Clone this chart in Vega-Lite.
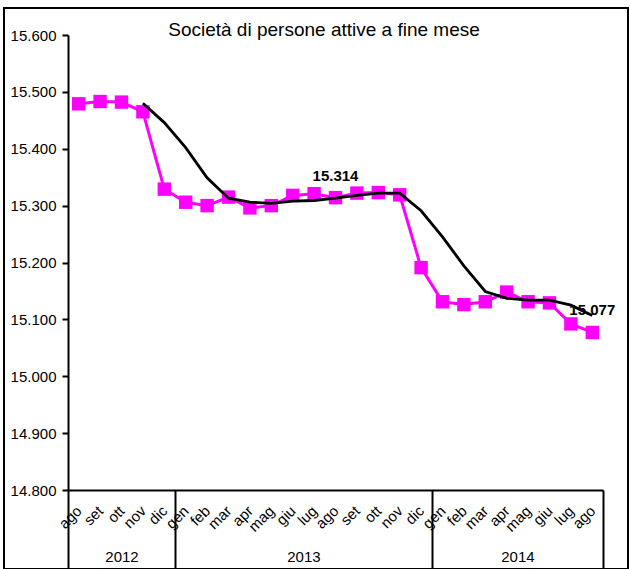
{
  "$schema": "https://vega.github.io/schema/vega-lite/v6.json",
  "width": 624,
  "height": 561,
  "padding": {"left": 4, "top": 8, "right": 2, "bottom": 0},
  "background": "white",
  "config": {
    "font": "Liberation Sans",
    "view": {"stroke": "#000000", "strokeWidth": 2},
    "locale": {"number": {"decimal": ",", "thousands": ".", "grouping": [3], "currency": ["", " €"]}}
  },
  "title": {
    "text": "Società di persone attive a fine mese",
    "font": "Liberation Sans",
    "fontSize": 19,
    "fontWeight": "normal",
    "color": "#000000",
    "anchor": "middle",
    "baseline": "middle",
    "offset": -41,
    "dx": 8
  },
  "layer": [
    {
      "data": {
        "values": [
          {"key": "2012-ago", "val": 15479, "trend": null},
          {"key": "2012-set", "val": 15483, "trend": null},
          {"key": "2012-ott", "val": 15482, "trend": null},
          {"key": "2012-nov", "val": 15465, "trend": 15480},
          {"key": "2012-dic", "val": 15329, "trend": 15446},
          {"key": "2013-gen", "val": 15306, "trend": 15402},
          {"key": "2013-feb", "val": 15300, "trend": 15349},
          {"key": "2013-mar", "val": 15315, "trend": 15313},
          {"key": "2013-apr", "val": 15296, "trend": 15306},
          {"key": "2013-mag", "val": 15300, "trend": 15304},
          {"key": "2013-giu", "val": 15318, "trend": 15308},
          {"key": "2013-lug", "val": 15321, "trend": 15309},
          {"key": "2013-ago", "val": 15314, "trend": 15313},
          {"key": "2013-set", "val": 15322, "trend": 15318},
          {"key": "2013-ott", "val": 15323, "trend": 15322},
          {"key": "2013-nov", "val": 15319, "trend": 15322},
          {"key": "2013-dic", "val": 15191, "trend": 15291},
          {"key": "2014-gen", "val": 15131, "trend": 15245},
          {"key": "2014-feb", "val": 15126, "trend": 15194},
          {"key": "2014-mar", "val": 15131, "trend": 15149},
          {"key": "2014-apr", "val": 15148, "trend": 15137},
          {"key": "2014-mag", "val": 15131, "trend": 15134},
          {"key": "2014-giu", "val": 15129, "trend": 15134},
          {"key": "2014-lug", "val": 15092, "trend": 15125},
          {"key": "2014-ago", "val": 15077, "trend": 15107}
        ]
      },
      "encoding": {
        "x": {
          "field": "key",
          "type": "ordinal",
          "sort": null,
          "scale": {"type": "point", "range": [64, 599], "padding": 0.5},
          "axis": {
            "orient": "bottom",
            "offset": -79,
            "title": null,
            "ticks": false,
            "domainColor": "#000000",
            "domainWidth": 2,
            "labelExpr": "split(datum.value, '-')[1]",
            "labelAngle": -45,
            "labelAlign": "right",
            "labelBaseline": "middle",
            "labelPadding": 18,
            "labelFont": "Liberation Sans",
            "labelFontSize": 15,
            "labelColor": "#000000",
            "labelOverlap": false,
            "labelBound": false,
            "labelFlush": false
          }
        }
      },
      "layer": [
        {
          "mark": {"type": "line", "color": "#FF00FF", "strokeWidth": 3},
          "encoding": {
            "y": {
              "field": "val",
              "type": "quantitative",
              "scale": {"domain": [14800, 15600], "range": [482, 27], "zero": false, "nice": false},
              "axis": {
                "title": null,
                "offset": -64,
                "values": [14800, 14900, 15000, 15100, 15200, 15300, 15400, 15500, 15600],
                "format": ",d",
                "grid": false,
                "domainColor": "#000000",
                "domainWidth": 2,
                "tickColor": "#000000",
                "tickWidth": 2,
                "tickSize": 6,
                "labelPadding": 6,
                "labelFont": "Liberation Sans",
                "labelFontSize": 15,
                "labelColor": "#000000"
              }
            }
          }
        },
        {
          "mark": {"type": "square", "color": "#FF00FF", "size": 180, "opacity": 1, "filled": true},
          "encoding": {"y": {"field": "val", "type": "quantitative"}}
        },
        {
          "mark": {"type": "line", "color": "#000000", "strokeWidth": 2.8},
          "encoding": {"y": {"field": "trend", "type": "quantitative"}}
        },
        {
          "transform": [{"filter": "datum.key == '2013-ago' || datum.key == '2014-ago'"}],
          "mark": {"type": "text", "fontWeight": "bold", "fontSize": 15, "font": "Liberation Sans", "color": "#000000", "dy": -22, "baseline": "middle"},
          "encoding": {
            "y": {"field": "val", "type": "quantitative"},
            "text": {"field": "val", "type": "quantitative", "format": ",d"}
          }
        }
      ]
    },
    {
      "data": {
        "values": [
          {"year": "2012", "start": 0, "end": 5},
          {"year": "2013", "start": 5, "end": 17},
          {"year": "2014", "start": 17, "end": 25}
        ]
      },
      "mark": {"type": "rect", "opacity": 0},
      "encoding": {
        "x": {
          "field": "start",
          "type": "quantitative",
          "scale": {"domain": [0, 25], "range": [64, 599], "zero": false, "nice": false},
          "axis": {
            "orient": "bottom",
            "offset": -79,
            "title": null,
            "domain": false,
            "grid": false,
            "values": [0, 2.5, 5, 11, 17, 21, 25],
            "tickSize": 80,
            "tickWidth": 2,
            "tickColor": "#000000",
            "tickOpacity": {"condition": {"test": "datum.value == 0 || datum.value == 5 || datum.value == 17 || datum.value == 25", "value": 1}, "value": 0},
            "labelOpacity": {"condition": {"test": "datum.value == 2.5 || datum.value == 11 || datum.value == 21", "value": 1}, "value": 0},
            "labelExpr": "datum.value < 5 ? '2012' : datum.value < 17 ? '2013' : '2014'",
            "labelPadding": -21,
            "labelBaseline": "top",
            "labelFont": "Liberation Sans",
            "labelFontSize": 15,
            "labelColor": "#000000",
            "labelOverlap": false,
            "labelBound": false,
            "labelFlush": false
          }
        },
        "x2": {"field": "end"}
      }
    }
  ],
  "resolve": {"scale": {"x": "independent"}}
}
